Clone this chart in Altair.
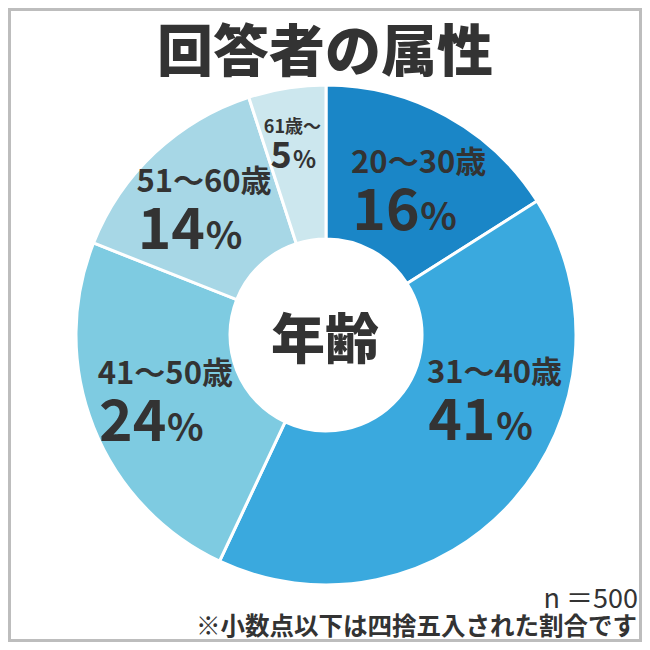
import altair as alt
import pandas as pd
import numpy as np

# ---- data ----
categories = ["20～30歳", "31～40歳", "41～50歳", "51～60歳", "61歳～"]
percents = [16, 41, 24, 14, 5]
colors = ["#1a86c7", "#3aa9de", "#7ecbe1", "#a7d7e6", "#cce7ee"]

title_text = "回答者の属性"
center_text = "年齢"
n_text = "n ＝500"
note_text = "※小数点以下は四捨五入された割合です"

# ---- layout ----
W = H = 634
CX, CY = 318, 327
R_OUT, R_IN = 250, 96
label_radius = [171, 181, 174, 175, 193]
label_nudge = [4, -20, -1, -1, -1]
label_big = [True, True, True, True, False]
FONT = "Noto Sans CJK JP"
TXT = "#333333"

vals = np.array(percents, dtype=float)
start = np.cumsum(vals) - vals
mid_deg = (start + vals / 2) / vals.sum() * 360
ang = np.radians(mid_deg + np.array(label_nudge))
lr = np.array(label_radius, dtype=float)

def text_w(s, fs):
    w = 0
    for ch in s:
        w += 0.57 * fs if ch.isascii() else 1.0 * fs
    return w

rows = []
for i, (c, p) in enumerate(zip(categories, percents)):
    big = label_big[i]
    cx = lr[i] * np.sin(ang[i])
    cy = -lr[i] * np.cos(ang[i])
    cat_fs = 31 if big else 18
    num_fs = 57 if big else 36
    pct_fs = 38 if big else 24
    gap = 3 if big else 2
    num = str(p)
    cat_w = text_w(c, cat_fs)
    num_w = len(num) * 0.57 * num_fs
    pct_w = 0.9 * pct_fs
    if big:
        num_left = cx - cat_w / 2
    else:
        num_left = cx - (num_w + gap + pct_w) / 2
    rows.append(dict(
        cat=c, pct=p, idx=i, num=num, sign="%",
        cat_x=cx, cat_y=cy - (18 if big else 12), cat_fs=cat_fs,
        num_x=num_left, num_y=cy + (39 if big else 23), num_fs=num_fs,
        pct_x=num_left + num_w + gap, pct_fs=pct_fs,
    ))
df = pd.DataFrame(rows)

xs = alt.Scale(domain=[-CX, W - CX], range=[0, W], nice=False, zero=False)
ys = alt.Scale(domain=[-CY, H - CY], range=[0, H], nice=False, zero=False)

base = alt.Chart(df)

arcs = base.mark_arc(innerRadius=R_IN, outerRadius=R_OUT, stroke="white", strokeWidth=3).encode(
    theta=alt.Theta("pct:Q", stack=True),
    order=alt.Order("idx:Q"),
    color=alt.Color("cat:N", scale=alt.Scale(domain=categories, range=colors), legend=None),
    x=alt.value(CX),
    y=alt.value(CY),
)

cat_text = base.mark_text(font=FONT, fontWeight="bold", color=TXT, align="center", baseline="alphabetic").encode(
    x=alt.X("cat_x:Q", scale=xs, axis=None),
    y=alt.Y("cat_y:Q", scale=ys, axis=None),
    text="cat:N",
    size=alt.Size("cat_fs:Q", scale=None, legend=None),
)
num_text = base.mark_text(font=FONT, fontWeight="bold", color=TXT, align="left", baseline="alphabetic").encode(
    x=alt.X("num_x:Q", scale=xs, axis=None),
    y=alt.Y("num_y:Q", scale=ys, axis=None),
    text="num:N",
    size=alt.Size("num_fs:Q", scale=None, legend=None),
)
pct_text = base.mark_text(font=FONT, fontWeight="bold", color=TXT, align="left", baseline="alphabetic").encode(
    x=alt.X("pct_x:Q", scale=xs, axis=None),
    y=alt.Y("num_y:Q", scale=ys, axis=None),
    text="sign:N",
    size=alt.Size("pct_fs:Q", scale=None, legend=None),
)

title = alt.Chart(pd.DataFrame({"t": [title_text]})).mark_text(font=FONT, fontWeight=900, fontSize=56, color=TXT, align="center", baseline="alphabetic").encode(
    text="t:N", x=alt.value(317), y=alt.value(63)
)
center = alt.Chart(pd.DataFrame({"t": [center_text]})).mark_text(font=FONT, fontWeight=900, fontSize=54, color=TXT, align="center", baseline="alphabetic").encode(
    text="t:N", x=alt.value(CX - 1), y=alt.value(351)
)
n_lbl = alt.Chart(pd.DataFrame({"t": [n_text]})).mark_text(font=FONT, fontSize=27, color=TXT, align="right", baseline="alphabetic").encode(
    text="t:N", x=alt.value(630), y=alt.value(600)
)
note = alt.Chart(pd.DataFrame({"t": [note_text]})).mark_text(font=FONT, fontWeight="bold", fontSize=24.5, color=TXT, align="right", baseline="alphabetic").encode(
    text="t:N", x=alt.value(629), y=alt.value(627)
)
frame = alt.Chart(pd.DataFrame({"t": [0]})).mark_rect(fill=None, stroke="#bdbdbd", strokeWidth=3).encode(
    x=alt.value(1.5), x2=alt.value(W - 1.5), y=alt.value(1.5), y2=alt.value(H - 1.5)
)

chart = alt.layer(arcs, cat_text, num_text, pct_text, title, center, n_lbl, note, frame).properties(
    width=W, height=H, padding=0, autosize=alt.AutoSizeParams(type="none"), background="white"
).configure_view(stroke=None)

chart.save("out.html", embed_options={"renderer": "svg", "actions": False})
